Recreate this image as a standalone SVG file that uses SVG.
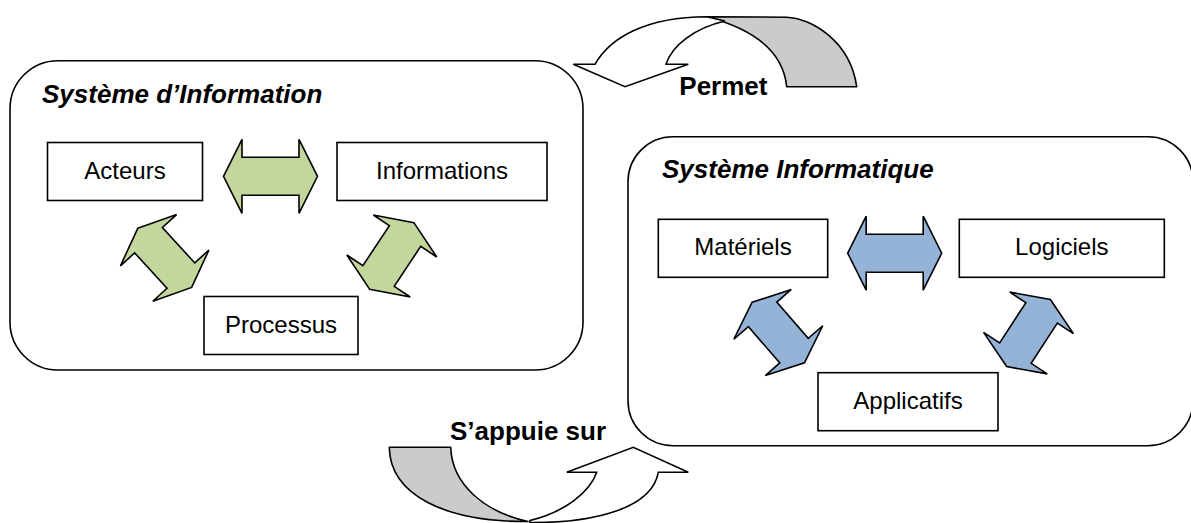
<svg xmlns="http://www.w3.org/2000/svg" width="1191" height="523" viewBox="0 0 1191 523">
<style>
.frame{fill:#fff;stroke:#000;stroke-width:1.6}
.box{fill:#fff;stroke:#000;stroke-width:1.6}
.lbl{font-family:"Liberation Sans",Arial,sans-serif;font-size:24px;fill:#000;text-anchor:middle}
.title{font-family:"Liberation Sans",Arial,sans-serif;font-size:26px;font-weight:bold;font-style:italic;fill:#000}
.cap{font-family:"Liberation Sans",Arial,sans-serif;font-size:26px;font-weight:bold;fill:#000}
.green{fill:#C3D69B;stroke:#000;stroke-width:1.6;stroke-linejoin:miter}
.blue{fill:#95B3D7;stroke:#000;stroke-width:1.6;stroke-linejoin:miter}
.gray{fill:#CBCBCB;stroke:#000;stroke-width:1.6;stroke-linejoin:round}
.white{fill:#fff;stroke:#000;stroke-width:1.6;stroke-linejoin:miter}
</style>
<defs>
<polygon id="dh" points="-47,0 -28.5,-37 -28.5,-19 28.5,-19 28.5,-37 47,0 28.5,37 28.5,19 -28.5,19 -28.5,37"/>
<polygon id="dd" points="-40,0 -24,-38 -24,-18.8 24,-18.8 24,-38 40,0 24,38 24,18.8 -24,18.8 -24,38"/>
</defs>

<g id="systeme-information">
<rect class="frame" x="10" y="60.7" width="573" height="309.3" rx="48" ry="48"/>
<text class="title" x="42" y="103.3">Système d’Information</text>
</g>
<g id="systeme-informatique">
<rect class="frame" x="628" y="136.7" width="565" height="309" rx="45" ry="45"/>
<text class="title" x="662" y="178.3">Système Informatique</text>
</g>

<g id="acteurs"><rect class="box" x="47.5" y="142.5" width="155" height="58"/><text class="lbl" x="125" y="178.5">Acteurs</text></g>
<g id="informations"><rect class="box" x="337" y="142.5" width="210" height="58"/><text class="lbl" x="442" y="178.5">Informations</text></g>
<g id="processus"><rect class="box" x="204" y="296.5" width="154" height="58"/><text class="lbl" x="281" y="332.5">Processus</text></g>
<g id="materiels"><rect class="box" x="658.3" y="219.3" width="169.4" height="58"/><text class="lbl" x="743" y="255.3">Matériels</text></g>
<g id="logiciels"><rect class="box" x="959.3" y="219.3" width="205" height="58"/><text class="lbl" x="1061.8" y="255.3">Logiciels</text></g>
<g id="applicatifs"><rect class="box" x="818" y="372.7" width="180" height="58"/><text class="lbl" x="908" y="408.7">Applicatifs</text></g>

<g id="connectors">
<use href="#dh" class="green" transform="translate(270.5,176.3)"/>
<use href="#dd" class="green" transform="translate(164.7,257.9) rotate(47.6)"/>
<use href="#dd" class="green" transform="translate(391.8,256) rotate(123.5)"/>
<use href="#dh" class="blue" transform="translate(894.7,253.2)"/>
<use href="#dd" class="blue" transform="translate(778.3,332.5) rotate(49.1)"/>
<use href="#dd" class="blue" transform="translate(1028.5,333) rotate(123.1)"/>

<g id="permet">
<path class="gray" d="M706.7,16.7 L786.7,17.2 C810,18 850,40 856.7,86.7 L786.7,86.7 C784,60 765,32 706.7,16.7 Z"/>
<path class="white" d="M595,64.3 C610,38 645,17 706.7,16.7 L725,21 C695,28 672,45 666,64.3 L688.3,64.3 L625,86.7 L573.3,64.3 Z"/>
<text class="cap" x="679.3" y="95">Permet</text>
</g>
<g id="appuie">
<path class="gray" d="M389.3,447.3 L450.7,447.3 C452,485 485,512 528,521.5 C445,522 390,495 389.3,447.3 Z"/>
<path class="white" d="M530,522.5 C595,523 652,508 658.3,472.3 L688.3,472.3 L633.3,447.3 L566.7,472.3 L596.7,472.3 C590,492 565,512 530,520.5 Z"/>
<text class="cap" x="450" y="440">S’appuie sur</text>
</g>
</g>
</svg>
